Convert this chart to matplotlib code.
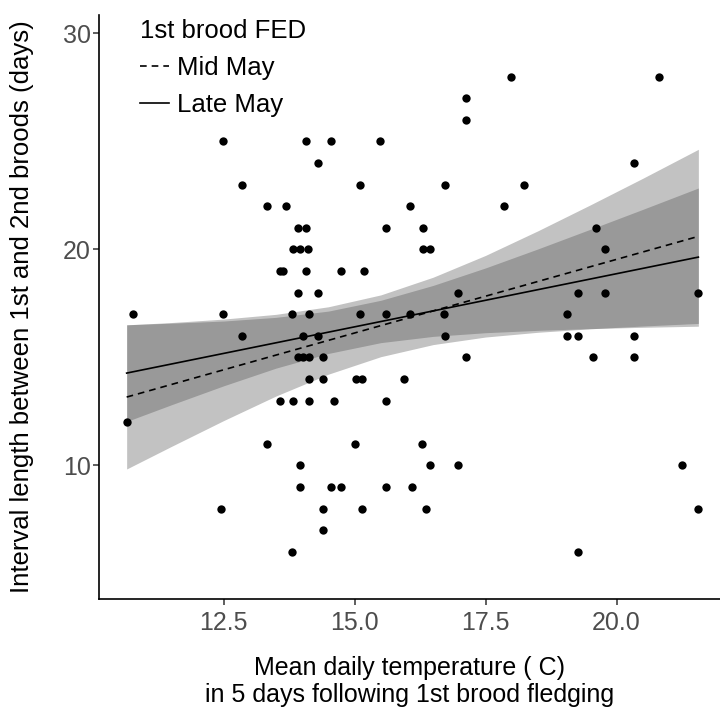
import numpy as np
import matplotlib
matplotlib.use("Agg")
import matplotlib.pyplot as plt
from matplotlib.lines import Line2D

# observed broods: mean temperature (C) and interval length (days)
temps = [17.98, 20.81, 17.13, 17.13,
         12.48, 14.08, 14.55, 15.49, 14.30, 20.34,
         12.85, 15.11, 16.72, 18.23, 13.32, 13.70, 16.06, 17.85,
         13.92, 14.08, 15.59, 16.31, 19.61,
         13.82, 13.96, 14.11, 16.31, 16.44, 19.77,
         13.58, 13.63, 14.08, 14.74, 15.18,
         13.92, 14.30, 16.98, 19.27, 19.77, 21.56,
         10.77, 12.48, 13.80, 14.13, 15.11, 15.59, 16.05, 16.70, 19.05,
         12.85, 14.02, 14.30, 16.72, 19.05, 19.27, 20.34,
         13.92, 14.02, 14.13, 14.39, 17.13, 19.55, 20.34,
         14.13, 14.39, 15.02, 15.14, 15.94,
         13.57, 13.82, 14.13, 14.61, 15.59,
         10.65, 13.32, 15.00, 16.28,
         13.96, 16.44, 16.98, 21.25,
         13.96, 14.55, 14.74, 15.59, 16.09,
         12.45, 14.39, 15.15, 16.37, 21.56,
         14.39, 13.80, 19.27]
days = [28, 28, 27, 26,
        25, 25, 25, 25, 24, 24,
        23, 23, 23, 23, 22, 22, 22, 22,
        21, 21, 21, 21, 21,
        20, 20, 20, 20, 20, 20,
        19, 19, 19, 19, 19,
        18, 18, 18, 18, 18, 18,
        17, 17, 17, 17, 17, 17, 17, 17, 17,
        16, 16, 16, 16, 16, 16, 16,
        15, 15, 15, 15, 15, 15, 15,
        14, 14, 14, 14, 14,
        13, 13, 13, 13, 13,
        12, 11, 11, 11,
        10, 10, 10, 10,
        9, 9, 9, 9, 9,
        8, 8, 8, 8, 8,
        7, 6, 6]

# fitted lines (read at the ends of the temperature range)
fit_x = [10.65, 21.56]
mid_fit = [13.16, 20.60]
late_fit = [14.27, 19.64]

# confidence bands read along the temperature axis
band_x = [10.65, 11.5, 12.5, 13.5, 14.5, 15.5, 16.5, 17.5, 18.5, 19.5, 20.5, 21.56]
mid_lower = [9.83, 10.87, 12.07, 13.21, 14.22, 15.03, 15.59, 15.94, 16.16, 16.32, 16.45, 16.57]
mid_upper = [16.50, 16.61, 16.77, 16.99, 17.34, 17.89, 18.71, 19.72, 20.86, 22.06, 23.29, 24.63]
late_lower = [12.03, 12.80, 13.68, 14.50, 15.18, 15.68, 15.97, 16.14, 16.25, 16.33, 16.39, 16.44]
late_upper = [16.51, 16.58, 16.68, 16.85, 17.14, 17.64, 18.33, 19.14, 20.02, 20.93, 21.85, 22.84]

x_ticks = [12.5, 15.0, 17.5, 20.0]
y_ticks = [10, 20, 30]

plt.rcParams["font.family"] = ["Liberation Sans", "DejaVu Sans"]

fig = plt.figure(figsize=(7.2, 7.13), dpi=100)
ax = fig.add_axes([99.3 / 720, 114 / 713, 1 - 99.3 / 720, 584 / 713])

band_color = "#464646"
ax.fill_between(band_x, mid_lower, mid_upper, color=band_color, alpha=0.33, lw=0)
ax.fill_between(band_x, late_lower, late_upper, color=band_color, alpha=0.33, lw=0)
ax.plot(fit_x, mid_fit, color="black", lw=1.2, ls=(0, (4, 3)))
ax.plot(fit_x, late_fit, color="black", lw=1.2)
ax.scatter(temps, days, s=36, color="black", lw=0, zorder=3)

ax.set_xlim(10.128, 21.973)
ax.set_ylim(3.81, 30.85)
ax.set_xticks(x_ticks)
ax.set_xticklabels([f"{t:.1f}" for t in x_ticks])
ax.set_yticks(y_ticks)

for side in ["top", "right"]:
    ax.spines[side].set_visible(False)
for side in ["left", "bottom"]:
    ax.spines[side].set_linewidth(1.2)
    ax.spines[side].set_color("black")
ax.tick_params(length=4, width=1.1, color="#333333", labelcolor="#4d4d4d",
               labelsize=18)
ax.tick_params(axis="y", pad=2)
ax.tick_params(axis="x", pad=5)

ax.set_xlabel("Mean daily temperature ( C)\nin 5 days following 1st brood fledging",
              fontsize=18, labelpad=15, linespacing=1.14)
ax.set_ylabel("Interval length between 1st and 2nd broods (days)", fontsize=18.5)
ax.yaxis.set_label_coords(-0.106, 0.5)

handles = [Line2D([], [], color="black", lw=1.2, ls=(0, (4, 3))),
           Line2D([], [], color="black", lw=1.2)]
leg = ax.legend(handles, ["Mid May", "Late May"], title="1st brood FED",
                loc="upper left", bbox_to_anchor=(127 / 720, 707 / 713),
                bbox_transform=fig.transFigure, frameon=False, fontsize=18.5,
                title_fontsize=18.5, alignment="left", handlelength=1.13,
                handletextpad=0.31, labelspacing=0.51, borderpad=0)

fig.savefig("out.png", dpi=100)
